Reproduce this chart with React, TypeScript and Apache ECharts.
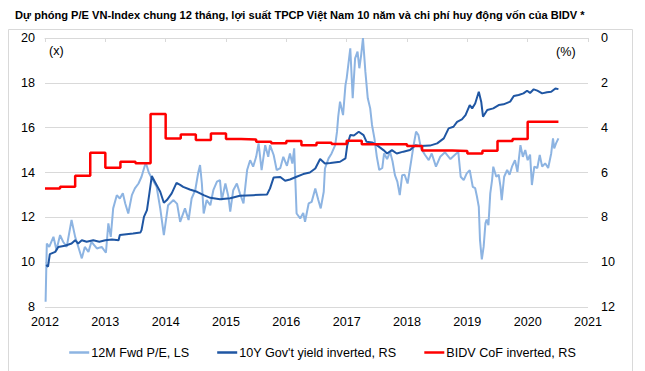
import React, { useEffect, useRef } from "react";
import * as echarts from "echarts";

const titleText =
  "Dự phóng P/E VN-Index chung 12 tháng, lợi suất TPCP Việt Nam 10 năm và chi phí huy động vốn của BIDV *";

const seriesNames = ["12M Fwd P/E, LS", "10Y Gov't yield inverted, RS", "BIDV CoF inverted, RS"];

// [year, P/E (x)]
const peData: [number, number][] = [
  [2012.01, 8.23], [2012.03, 10.83], [2012.07, 10.68], [2012.14, 11.13], [2012.19, 10.54],
  [2012.25, 11.21], [2012.3, 10.91], [2012.36, 10.68], [2012.44, 11.88], [2012.5, 11.13],
  [2012.55, 10.7], [2012.61, 10.17], [2012.66, 10.68], [2012.72, 10.46], [2012.77, 10.91],
  [2012.86, 10.61], [2012.94, 10.68], [2013.01, 10.42], [2013.05, 11.73], [2013.09, 11.13],
  [2013.13, 12.4], [2013.19, 12.99], [2013.24, 12.84], [2013.29, 13.07], [2013.33, 12.62],
  [2013.38, 12.17], [2013.44, 12.99], [2013.49, 13.29], [2013.55, 13.51], [2013.6, 13.81],
  [2013.67, 14.45], [2013.72, 14.0], [2013.77, 13.74], [2013.85, 13.36], [2013.91, 12.4],
  [2013.97, 11.21], [2014.04, 12.54], [2014.13, 12.77], [2014.19, 12.6], [2014.24, 11.8],
  [2014.32, 12.4], [2014.38, 11.88], [2014.43, 12.84], [2014.49, 13.21], [2014.54, 14.0],
  [2014.57, 14.33], [2014.6, 13.51], [2014.63, 12.17], [2014.68, 12.77], [2014.74, 12.54],
  [2014.79, 13.21], [2014.85, 13.59], [2014.9, 13.66], [2014.93, 12.77], [2014.99, 13.51],
  [2015.04, 12.92], [2015.07, 12.25], [2015.12, 13.21], [2015.18, 13.51], [2015.23, 13.07],
  [2015.29, 12.62], [2015.35, 14.11], [2015.4, 14.55], [2015.45, 14.26], [2015.5, 14.7],
  [2015.54, 15.3], [2015.59, 14.11], [2015.65, 15.22], [2015.7, 14.7], [2015.73, 15.22],
  [2015.79, 14.78], [2015.84, 14.11], [2015.9, 14.2], [2015.95, 14.7], [2016.01, 14.3],
  [2016.06, 14.85], [2016.1, 14.4], [2016.13, 15.08], [2016.17, 12.17], [2016.23, 11.95],
  [2016.28, 12.2], [2016.31, 11.8], [2016.37, 12.62], [2016.42, 12.69], [2016.48, 13.29],
  [2016.53, 12.77], [2016.57, 12.4], [2016.62, 13.14], [2016.64, 14.18], [2016.7, 14.63],
  [2016.75, 14.85], [2016.81, 15.22], [2016.84, 15.82], [2016.86, 16.49], [2016.89, 17.16],
  [2016.94, 16.56], [2016.98, 17.9], [2017.0, 18.2], [2017.06, 19.54], [2017.1, 17.31],
  [2017.14, 19.09], [2017.18, 19.39], [2017.21, 18.65], [2017.24, 19.24], [2017.27, 20.0],
  [2017.31, 18.5], [2017.35, 17.31], [2017.39, 16.86], [2017.42, 16.12], [2017.46, 15.52],
  [2017.5, 14.7], [2017.54, 14.11], [2017.59, 14.2], [2017.62, 14.85], [2017.67, 14.6],
  [2017.72, 14.92], [2017.76, 14.5], [2017.8, 13.88], [2017.84, 13.59], [2017.88, 12.99],
  [2017.92, 13.88], [2017.96, 13.9], [2018.01, 13.51], [2018.05, 14.18], [2018.11, 15.22],
  [2018.15, 15.82], [2018.19, 15.67], [2018.23, 15.08], [2018.3, 14.78], [2018.36, 14.55],
  [2018.41, 14.85], [2018.48, 14.26], [2018.55, 14.7], [2018.63, 14.9], [2018.72, 14.6],
  [2018.8, 14.8], [2018.85, 14.92], [2018.89, 13.81], [2018.94, 13.66], [2018.99, 13.96],
  [2019.04, 14.1], [2019.09, 13.36], [2019.13, 13.3], [2019.16, 12.92], [2019.19, 12.47],
  [2019.21, 10.98], [2019.24, 10.12], [2019.27, 10.68], [2019.3, 11.73], [2019.32, 11.9],
  [2019.35, 11.65], [2019.38, 13.07], [2019.41, 13.66], [2019.43, 14.26], [2019.48, 13.81],
  [2019.52, 13.9], [2019.55, 13.36], [2019.57, 12.77], [2019.61, 13.81], [2019.66, 14.11],
  [2019.7, 13.9], [2019.74, 14.26], [2019.79, 14.55], [2019.83, 14.03], [2019.88, 15.22],
  [2019.92, 14.7], [2019.96, 15.0], [2020.0, 14.55], [2020.04, 14.8], [2020.07, 13.44],
  [2020.11, 14.26], [2020.16, 14.2], [2020.2, 14.78], [2020.24, 14.26], [2020.29, 14.41],
  [2020.34, 14.2], [2020.39, 14.85], [2020.42, 15.52], [2020.44, 15.08], [2020.47, 15.3],
  [2020.51, 15.52],
];

// [year, 10Y government bond yield (%)] plotted on inverted right axis
const yieldData: [number, number][] = [
  [2012.02, 10.13], [2012.05, 10.2], [2012.08, 9.64], [2012.17, 9.54], [2012.22, 9.32],
  [2012.33, 9.27], [2012.44, 9.17], [2012.5, 9.02], [2012.55, 9.17], [2012.61, 9.02],
  [2012.69, 9.09], [2012.8, 9.02], [2012.9, 9.09], [2013.0, 9.02], [2013.11, 8.99],
  [2013.22, 9.02], [2013.24, 8.79], [2013.35, 8.75], [2013.46, 8.72], [2013.58, 8.68],
  [2013.6, 8.57], [2013.64, 7.98], [2013.69, 7.68], [2013.73, 6.93], [2013.77, 6.16],
  [2013.82, 6.41], [2013.91, 6.86], [2013.97, 7.35], [2014.02, 7.23], [2014.1, 6.93],
  [2014.18, 6.46], [2014.24, 6.55], [2014.29, 6.64], [2014.4, 6.76], [2014.52, 6.86],
  [2014.63, 7.01], [2014.74, 7.13], [2014.9, 7.19], [2015.07, 7.15], [2015.23, 7.04],
  [2015.45, 7.01], [2015.68, 6.98], [2015.73, 6.71], [2015.79, 6.22], [2015.9, 6.2],
  [2015.98, 6.37], [2016.06, 6.31], [2016.17, 6.19], [2016.28, 6.07], [2016.39, 6.0],
  [2016.48, 5.82], [2016.56, 5.4], [2016.64, 5.6], [2016.73, 5.58], [2016.89, 5.52],
  [2016.98, 5.37], [2017.01, 4.78], [2017.06, 4.33], [2017.12, 4.35], [2017.2, 4.18],
  [2017.28, 4.33], [2017.33, 4.63], [2017.42, 4.66], [2017.5, 4.78], [2017.61, 5.0],
  [2017.67, 5.15], [2017.75, 5.0], [2017.83, 5.15], [2017.94, 5.07], [2018.05, 5.0],
  [2018.14, 4.78], [2018.22, 4.82], [2018.38, 4.8], [2018.5, 4.7], [2018.61, 4.48],
  [2018.69, 4.03], [2018.77, 3.96], [2018.83, 3.74], [2018.91, 3.63], [2018.97, 3.44],
  [2019.04, 2.99], [2019.08, 3.14], [2019.13, 2.92], [2019.19, 2.4], [2019.23, 2.84],
  [2019.26, 3.51], [2019.33, 3.21], [2019.43, 3.14], [2019.52, 2.99], [2019.6, 2.96],
  [2019.71, 2.84], [2019.77, 2.59], [2019.85, 2.54], [2019.93, 2.47], [2019.99, 2.35],
  [2020.04, 2.45], [2020.1, 2.29], [2020.16, 2.35], [2020.24, 2.47], [2020.32, 2.42],
  [2020.39, 2.4], [2020.46, 2.25], [2020.51, 2.28],
];

// [quarter start, BIDV cost of funds (%)] plotted on inverted right axis
const cofData: [number, number][] = [
  [2012.0, 6.71], [2012.25, 6.64], [2012.5, 6.15], [2012.75, 5.12], [2013.0, 5.79],
  [2013.25, 5.52], [2013.5, 5.59], [2013.75, 3.39], [2014.0, 4.48], [2014.25, 4.3],
  [2014.5, 4.55], [2014.75, 4.26], [2015.0, 4.51], [2015.25, 4.53], [2015.5, 4.63],
  [2015.75, 4.7], [2016.0, 4.59], [2016.25, 4.78], [2016.5, 4.67], [2016.75, 4.73],
  [2017.0, 4.58], [2017.25, 4.74], [2017.5, 4.74], [2017.75, 4.74], [2018.0, 4.82],
  [2018.25, 5.02], [2018.5, 5.02], [2018.75, 5.04], [2019.0, 5.15], [2019.25, 5.03],
  [2019.5, 4.6], [2019.75, 4.51], [2020.0, 3.74], [2020.51, 3.74],
];

const leftTicks = { min: 8, max: 20, interval: 2 };
const rightTicks = { min: 0, max: 12, interval: 2 };
const yearRange = { min: 2012, max: 2021, interval: 1 };

const FONT = "'Liberation Sans', Arial, sans-serif";
const colors = ["#8db4e2", "#1f56a3", "#ff0000"];
const LABEL_SIZE = 12.6;

export default function App() {
  const ref = useRef<HTMLDivElement>(null);
  useEffect(() => {
    if (!ref.current) return;
    const chart = echarts.init(ref.current, undefined, { renderer: "svg" });
    chart.setOption({
      animation: false,
      backgroundColor: "#ffffff",
      textStyle: { fontFamily: FONT },
      title: {
        text: titleText,
        left: 10,
        top: 4,
        textStyle: { fontSize: 11.1, fontWeight: "bold", color: "#000", fontFamily: FONT },
      },
      graphic: [
        {
          type: "rect",
          shape: { x: 8.5, y: 29.5, width: 624, height: 360 },
          style: { fill: "none", stroke: "#d9d9d9", lineWidth: 1 },
          silent: true,
        },
        {
          type: "text",
          left: 49,
          top: 44,
          style: { text: "(x)", fontSize: LABEL_SIZE, fill: "#000", fontFamily: FONT },
        },
        {
          type: "text",
          left: 556,
          top: 45,
          style: { text: "(%)", fontSize: LABEL_SIZE, fill: "#000", fontFamily: FONT },
        },
      ],
      grid: { left: 45, right: 57, top: 38, bottom: 64 },
      legend: {
        bottom: 7,
        left: "center",
        icon: "rect",
        itemWidth: 20,
        itemHeight: 2.5,
        itemGap: 28,
        itemStyle: { borderWidth: 0, borderColor: "transparent" },
        lineStyle: { width: 0 },
        textStyle: {
          fontSize: LABEL_SIZE,
          color: "#000",
          fontFamily: FONT,
          padding: [0, 0, 0, -3],
        },
        data: seriesNames,
      },
      xAxis: {
        type: "value",
        ...yearRange,
        axisLine: { show: true, lineStyle: { color: "#d9d9d9", width: 1 } },
        axisTick: { show: true, length: 4, lineStyle: { color: "#d9d9d9" } },
        axisLabel: {
          fontSize: LABEL_SIZE,
          color: "#000",
          margin: 8,
          formatter: (v: number) => String(v),
        },
        splitLine: { show: false },
      },
      yAxis: [
        {
          type: "value",
          ...leftTicks,
          position: "left",
          axisLine: { show: false },
          axisTick: { show: false },
          axisLabel: { fontSize: LABEL_SIZE, color: "#000", margin: 10 },
          splitLine: { show: true, lineStyle: { color: "#d9d9d9", width: 1 } },
        },
        {
          type: "value",
          ...rightTicks,
          inverse: true,
          position: "right",
          axisLine: { show: false },
          axisTick: { show: false },
          axisLabel: { fontSize: LABEL_SIZE, color: "#000", margin: 13 },
          splitLine: { show: false },
        },
      ],
      series: [
        {
          name: seriesNames[0],
          type: "line",
          yAxisIndex: 0,
          data: peData,
          showSymbol: false,
          lineStyle: { color: colors[0], width: 2 },
          itemStyle: { color: colors[0] },
        },
        {
          name: seriesNames[1],
          type: "line",
          yAxisIndex: 1,
          data: yieldData,
          showSymbol: false,
          lineStyle: { color: colors[1], width: 2 },
          itemStyle: { color: colors[1] },
        },
        {
          name: seriesNames[2],
          type: "line",
          yAxisIndex: 1,
          step: "end",
          data: cofData,
          showSymbol: false,
          lineStyle: { color: colors[2], width: 2.5 },
          itemStyle: { color: colors[2] },
        },
      ],
    });
    return () => chart.dispose();
  }, []);
  return (
    <div
      ref={ref}
      style={{ position: "fixed", left: 0, top: 0, width: 645, height: 371, background: "#fff" }}
    />
  );
}
